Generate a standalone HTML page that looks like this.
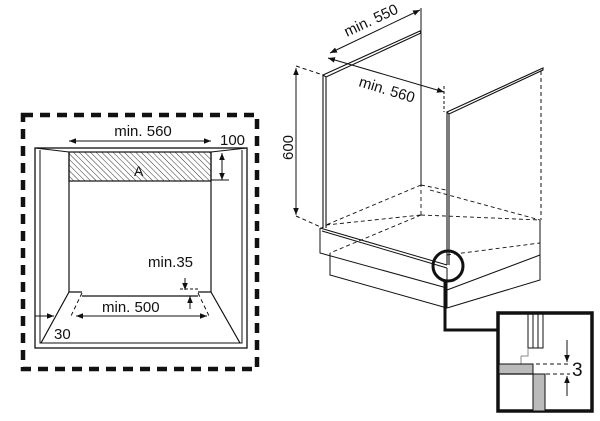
<!DOCTYPE html>
<html><head><meta charset="utf-8"><style>body{margin:0;background:#fff}svg{display:block}text{font-family:"Liberation Sans",sans-serif;fill:#111}</style></head><body>
<svg width="600" height="421" viewBox="0 0 600 421" xmlns="http://www.w3.org/2000/svg">
<defs>
<pattern id="h" width="4" height="4" patternUnits="userSpaceOnUse" patternTransform="rotate(-45)"><line x1="0" y1="0" x2="0" y2="4" stroke="#333" stroke-width="1"/></pattern>
<marker id="a" viewBox="0 0 10 10" refX="10" refY="5" markerWidth="7" markerHeight="7" orient="auto-start-reverse"><path d="M0,1 L10,5 L0,9 z" fill="#111"/></marker>
</defs>
<g fill="none" stroke="#111">
<rect x="23" y="115" width="234" height="254" stroke-width="4.5" stroke-dasharray="10,7"/>
<rect x="35" y="148" width="212" height="200" stroke-width="1.3"/>
<polyline points="40,150 40,343 242,343 242,150" stroke-width="1"/>
<path d="M35,148 L69,152 M247,148 L211,152" stroke-width="1"/>
<rect x="69" y="152" width="142" height="29" fill="url(#h)" stroke-width="1.2"/>
<path d="M69,152 V292 M211,152 V292" stroke-width="1.2"/>
<path d="M69,292 L41,343 M211,292 L240,343 M69,292 H82 M198,292 H211 M82,296 H198" stroke-width="1.2"/>
<path d="M82,293 L70,318 M198,293 L210,318" stroke-width="1" stroke-dasharray="4,3"/>
<path d="M180,289 H200" stroke-dasharray="3,2"/>
<path d="M69,141 H211" marker-start="url(#a)" marker-end="url(#a)"/>
<path d="M222,153 V180" marker-start="url(#a)" marker-end="url(#a)"/>
<path d="M211,180 H229"/>
<path d="M185,278 V290" marker-end="url(#a)"/>
<path d="M190,309 V296" marker-end="url(#a)"/>
<path d="M76,316 H207" marker-start="url(#a)" marker-end="url(#a)"/>
<path d="M35,316 H54" marker-end="url(#a)"/>
<path d="M323,75 L420,31 L421,33 L326,77 Z M323,75 V228 M326,77 V228" stroke-width="1.1"/>
<path d="M421,8 V185" stroke-width="1"/>
<path d="M447,112 L543,68 L543,70 L449,114 Z M447,112 V265 M449,114 V265" stroke-width="1.1"/>
<path d="M541,71 V220" stroke-dasharray="4,3"/>
<path d="M320,228 L447,265 M322,231 L447,268 M320,228 V253 L447,288 M447,268 V308 M330,253 V275 L447,308 M447,290 L540,255 V220 M447,308 L540,280 V255" stroke-width="1"/>
<path d="M421,185 L446,190 M421,185 L326,225 M326,225 L421,215 M421,215 V185 M421,215 L540,220 M421,215 L330,253 M447,255 L540,243 M430,190 L540,220" stroke-dasharray="4,3" stroke-width="0.9"/>
<path d="M296,66 L323,75 M296,216 L323,228" stroke-dasharray="4,3"/>
<path d="M296,68 V215" marker-start="url(#a)" marker-end="url(#a)"/>
<path d="M330,53 L420,10" marker-start="url(#a)" marker-end="url(#a)"/>
<path d="M328,58 L444,92" marker-start="url(#a)" marker-end="url(#a)"/>
<path d="M444,86 V112" stroke-dasharray="3,2"/>
<circle cx="448" cy="266" r="15" stroke-width="3"/>
<path d="M445,281 V330 H497" stroke-width="3"/>
<rect x="498" y="313" width="94" height="98" stroke-width="3.5"/>
<path d="M528,313 V348 H543 V313 M533,313 V348 M538,313 V348" stroke-width="1"/>
<path d="M521,356 H528 V348 M521,356 V364" stroke="#888"/>
<rect x="499" y="364" width="34" height="10" fill="#bbb" stroke-width="1"/>
<rect x="533" y="374" width="12" height="37" fill="#bbb" stroke-width="1"/>
<path d="M499,374 H533" stroke-width="1.3"/>
<path d="M536,364 H570 M546,374 H570" stroke-dasharray="4,3"/>
<path d="M567,340 V362" marker-end="url(#a)"/>
<path d="M567,396 V376" marker-end="url(#a)"/>
</g>
<text x="143" y="136" font-size="15" text-anchor="middle">min. 560</text>
<text x="220" y="145" font-size="15">100</text>
<text x="134" y="176" font-size="14">A</text>
<text x="148" y="267" font-size="15">min.35</text>
<text x="102" y="312" font-size="15">min. 500</text>
<text x="54" y="339" font-size="15">30</text>
<text x="0" y="0" font-size="15" transform="translate(293,160) rotate(-90)">600</text>
<text x="0" y="0" font-size="15" transform="translate(347,37) rotate(-25)">min. 550</text>
<text x="0" y="0" font-size="15" transform="translate(358,86) rotate(17)">min. 560</text>
<text x="572" y="376" font-size="19">3</text>
</svg>
</body></html>
